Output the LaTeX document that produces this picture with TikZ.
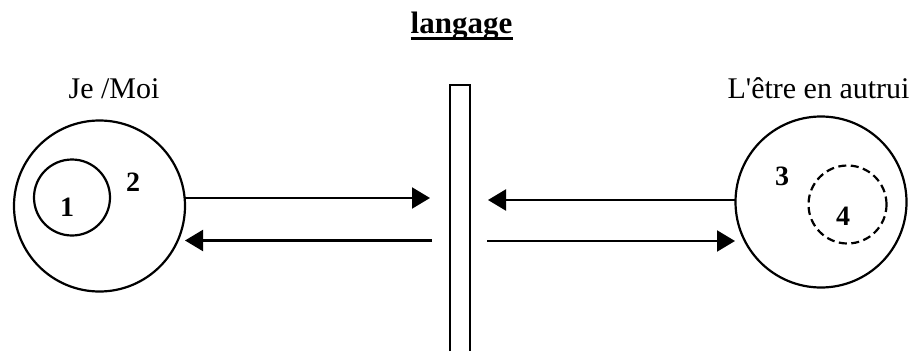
\documentclass[tikz,border=0pt]{standalone}
\usepackage{fontspec}
\setmainfont{Liberation Serif}
\usetikzlibrary{arrows.meta, positioning}
\newcommand{\straightquote}{\XeTeXglyph\XeTeXglyphindex"quotesingle"\relax}

\begin{document}
\begin{tikzpicture}[x=1pt, y=-1pt,
    ring/.style={circle, draw, line width=2.2pt, inner sep=0pt},
    label/.style={font=\fontsize{30}{36}\selectfont, anchor=base},
    num/.style={font=\fontsize{28}{32}\selectfont\bfseries},
    flow/.style={line width=2.2pt, -{Triangle[length=18pt, width=21pt]}}]
  \useasboundingbox (0, 0) rectangle (917, 351);

  % --- title ---
  \node[label, inner sep=0pt, font=\fontsize{31}{36}\selectfont\bfseries] (title) at (461.5, 33) {langage};
  \draw[line width=2.6pt] ([yshift=-5.5pt]title.base west) -- ([yshift=-5.5pt]title.base east);

  % --- Je / Moi ---
  \node[label] (moilabel) at (114, 98) {Je /Moi};
  \node[ring, minimum size=171pt] (moi) at (99.5, 206) {};
  \node[ring, minimum size=76pt] (un) at (72, 197.5) {};
  \node[num] (n1) at (67, 207) {1};
  \node[num] (n2) at (133, 182) {2};

  % --- L'etre en autrui ---
  \node[label] (autruilabel) at (818.5, 98) {L\straightquote être en autrui};
  \node[ring, minimum size=171pt] (autrui) at (821, 202) {};
  \node[ring, dash pattern=on 8pt off 4.5pt, minimum size=78pt] (quatre) at (847.5, 204.5) {};
  \node[num] (n3) at (782, 176) {3};
  \node[num] (n4) at (843, 216) {4};

  % --- the wall of language ---
  \coordinate (wallL) at (450, 351);
  \coordinate (wallR) at (470, 351);
  \draw[line width=2.2pt] (wallL) -- (450, 85) -- (470, 85) -- (wallR);

  % arrow ends
  \coordinate (a1s) at (185, 198);
  \coordinate (a1e) at (430, 198);
  \coordinate (a2s) at (432, 240.5);
  \coordinate (a2e) at (185, 240.5);
  \coordinate (a3s) at (735, 200);
  \coordinate (a3e) at (488, 200);
  \coordinate (a4s) at (487, 241);
  \coordinate (a4e) at (735, 241);

  \draw[flow] (a1s) -- (a1e);
  \draw[flow] (a2s) -- (a2e);
  \draw[flow] (a3s) -- (a3e);
  \draw[flow] (a4s) -- (a4e);
\end{tikzpicture}
\end{document}
